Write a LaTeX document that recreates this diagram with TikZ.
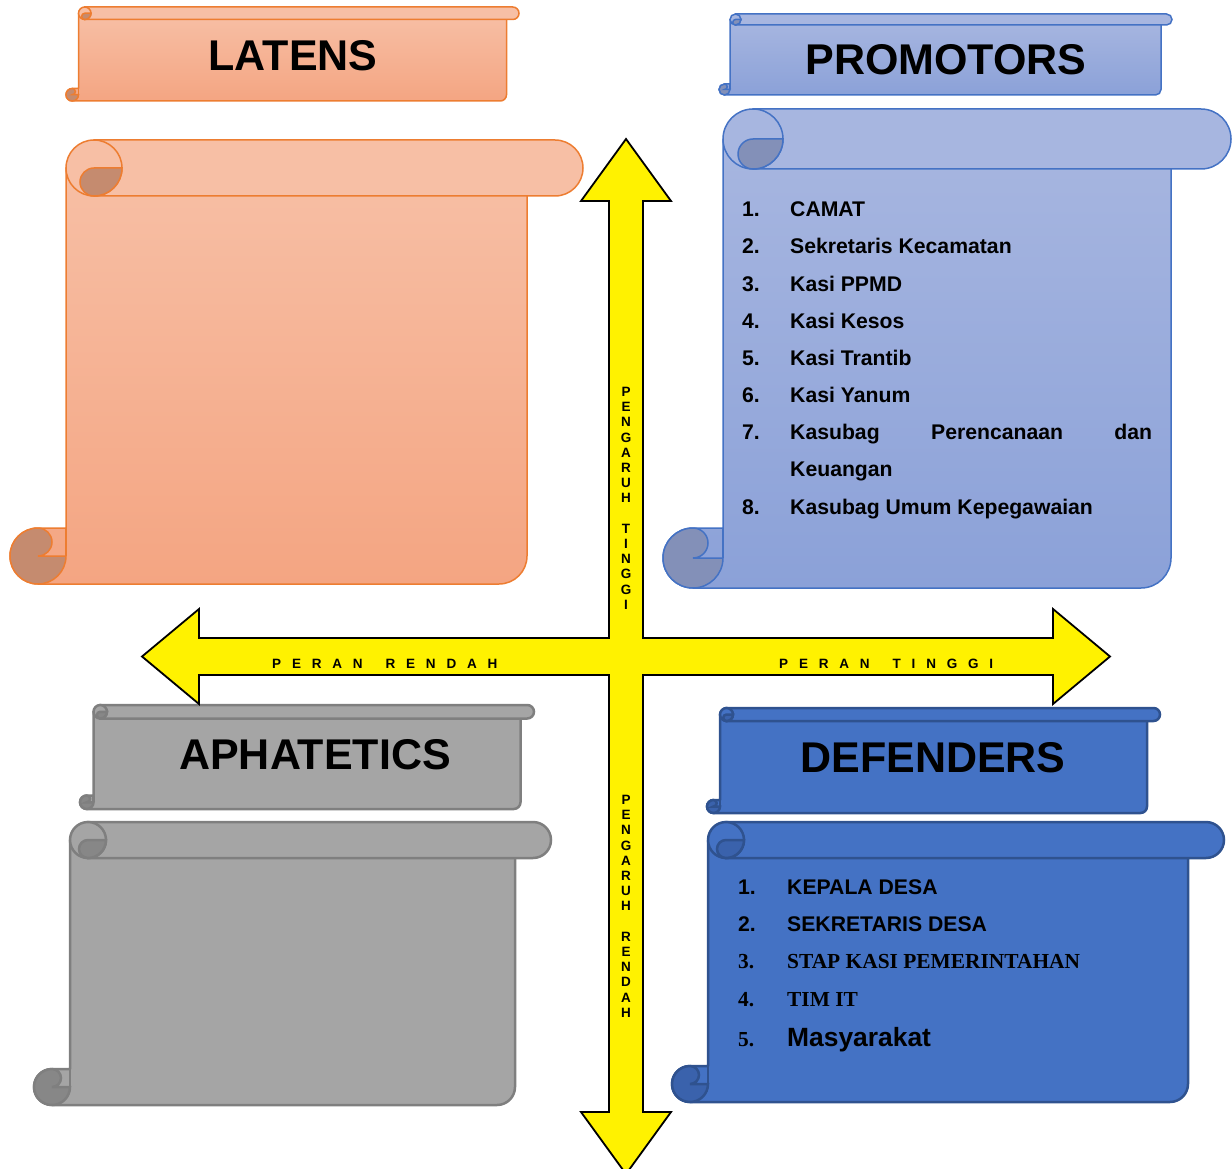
\documentclass[tikz,border=0pt]{standalone}
\usepackage{fontspec}
\setmainfont{Liberation Sans}
\newfontfamily\tms{Liberation Serif}
\definecolor{latT}{HTML}{F7BFA5}
\definecolor{latB}{HTML}{F4A582}
\definecolor{latS}{HTML}{ED7D31}
\definecolor{latD}{HTML}{C58B6F}
\definecolor{proT}{HTML}{A7B6E0}
\definecolor{proB}{HTML}{8BA1D8}
\definecolor{proS}{HTML}{4472C4}
\definecolor{proD}{HTML}{8390B8}
\definecolor{gryT}{HTML}{A5A5A5}
\definecolor{gryB}{HTML}{A5A5A5}
\definecolor{gryS}{HTML}{7F7F7F}
\definecolor{gryD}{HTML}{878787}
\definecolor{dfnT}{HTML}{4472C4}
\definecolor{dfnB}{HTML}{4472C4}
\definecolor{dfnS}{HTML}{2F528F}
\definecolor{dfnD}{HTML}{3A62AC}
\newcommand\lsp{\hskip 10.8pt}
\newcommand\wsp{\hskip 23pt}
% horizontal scroll: L T R B ch colour-prefix line-width
\newcommand\hscroll[7]{%
  \pgfmathsetmacro\hA{#5/2}%
  \pgfmathsetmacro\qA{#5/4}%
  \pgfmathsetmacro\xa{#1+\hA}%
  \pgfmathsetmacro\xb{#1+#5}%
  \pgfmathsetmacro\xc{#1+#5+\hA}%
  \pgfmathsetmacro\xg{#1+2*#5}%
  \pgfmathsetmacro\xd{#3-#5}%
  \pgfmathsetmacro\xe{#3-#5-\hA}%
  \pgfmathsetmacro\xf{#3-\hA}%
  \pgfmathsetmacro\ya{#2+\hA}%
  \pgfmathsetmacro\yb{#2+#5}%
  \pgfmathsetmacro\yc{#4-#5}%
  \pgfmathsetmacro\yd{#4-\hA}%
  \path[draw=#6S, line width=#7, line join=round, top color=#6T, bottom color=#6B]
    (\xb,\ya) -- (\xb,\yc) -- (\xa,\yc) arc[start angle=270, end angle=90, radius=\hA]
    -- (\xe,#4) arc[start angle=90, end angle=0, radius=\hA] -- (\xd,\ya) -- cycle;
  \path[draw=#6S, line width=#7, fill=#6T]
    (\xc,#2) -- (\xf,#2) arc[start angle=270, end angle=450, radius=\hA] -- (\xc,\yb) -- cycle;
  \path[draw=#6S, line width=#7, fill=#6T] (\xc,\ya) circle[radius=\hA];
  \path[draw=#6S, line width=#7, fill=#6D]
    (\xc,\ya) -- (\xg,\ya) arc[start angle=0, end angle=90, radius=\hA]
    arc[start angle=90, end angle=270, radius=\qA] -- cycle;
  \path[draw=#6S, line width=#7, fill=#6D]
    (\xa,\yd) -- (\xb,\yd) arc[start angle=0, end angle=270, radius=\hA]
    arc[start angle=-90, end angle=90, radius=\qA] -- cycle;
  \draw[#6S, line width=#7] (\xb,\yc) -- (\xb,\yd);
}
\tikzset{
  ttl/.style={font=\fontsize{43}{50}\selectfont\bfseries, inner sep=0pt, anchor=base},
  itm/.style={font=\fontsize{21.2}{24}\selectfont\bfseries, inner sep=0pt, anchor=base west},
  itmt/.style={font=\tms\fontsize{21.4}{24}\selectfont\bfseries, inner sep=0pt, anchor=base west},
  lbl/.style={font=\fontsize{13.5}{15.2}\selectfont\bfseries, inner sep=0pt},
  crossarrow/.style={fill=yellow, draw=black, line width=1.8pt, line join=miter}
}
\begin{document}
\begin{tikzpicture}[x=1pt,y=1pt,yscale=-1]
\useasboundingbox (0,0) rectangle (1232,1169);
\clip (0,0) rectangle (1232,1169);
% scrolls
\hscroll{66}{7}{519}{101}{12.5}{lat}{1.5pt}
\hscroll{10}{140}{583}{584}{56}{lat}{1.5pt}
\hscroll{719}{14}{1172}{95}{11}{pro}{1.5pt}
\hscroll{663}{109}{1231}{588}{60}{pro}{1.5pt}
\hscroll{80}{705}{534}{809}{13.5}{gry}{2.5pt}
\hscroll{34}{822}{551}{1105}{36}{gry}{2.5pt}
\hscroll{707}{708}{1160}{813}{13}{dfn}{2.5pt}
\hscroll{672}{822}{1224}{1102}{36}{dfn}{2.5pt}
% cross arrow
\path[crossarrow] (626,139) -- (671,201) -- (643,201) -- (643,638) -- (1053,638) -- (1053,609)
  -- (1110,656.5) -- (1053,704) -- (1053,675) -- (643,675) -- (643,1112) -- (671,1112)
  -- (626,1174) -- (581,1112) -- (609,1112) -- (609,675) -- (199,675) -- (199,704)
  -- (142,656.5) -- (199,609) -- (199,638) -- (609,638) -- (609,201) -- (581,201) -- cycle;
% titles
\node[ttl] (tlat) at (293,71) {LATENS};
\node[ttl] (tpro) at (946,75) {PROMOTORS};
\node[ttl] (tapa) at (315,769) {APHATETICS};
\node[ttl] (tdef) at (933,772) {DEFENDERS};
% promotors list
\node[itm] (pn1) at (742,217) {1.}; \node[itm] (pt1) at (790,217) {CAMAT};
\node[itm] (pn2) at (742,254) {2.}; \node[itm] (pt2) at (790,254) {Sekretaris Kecamatan};
\node[itm] (pn3) at (742,291) {3.}; \node[itm] (pt3) at (790,291) {Kasi PPMD};
\node[itm] (pn4) at (742,328) {4.}; \node[itm] (pt4) at (790,328) {Kasi Kesos};
\node[itm] (pn5) at (742,365) {5.}; \node[itm] (pt5) at (790,365) {Kasi Trantib};
\node[itm] (pn6) at (742,402) {6.}; \node[itm] (pt6) at (790,402) {Kasi Yanum};
\node[itm] (pn7) at (742,439) {7.}; \node[itm] (pt7) at (790,439) {\hbox to 362pt{Kasubag\hfill Perencanaan\hfill dan}};
\node[itm] (pt7b) at (790,476) {Keuangan};
\node[itm] (pn8) at (742,514) {8.}; \node[itm] (pt8) at (790,514) {Kasubag Umum Kepegawaian};
% defenders list
\node[itm] (dn1) at (738,894) {1.}; \node[itm] (dt1) at (787,894) {KEPALA DESA};
\node[itm] (dn2) at (738,931) {2.}; \node[itm] (dt2) at (787,931) {SEKRETARIS DESA};
\node[itmt] (dn3) at (738,968) {3.}; \node[itmt] (dt3) at (787,968) {STAP KASI PEMERINTAHAN};
\node[itmt] (dn4) at (738,1006) {4.}; \node[itmt] (dt4) at (787,1006) {TIM IT};
\node[itmt] (dn5) at (738,1046) {5.}; \node[itm, font=\fontsize{26.4}{30}\selectfont\bfseries] (dt5) at (787,1046) {Masyarakat};
% axis labels
\node[lbl, anchor=north, align=center] (vt) at (626,387) {P\\E\\N\\G\\A\\R\\U\\H\\\mbox{}\\T\\I\\N\\G\\G\\I};
\node[lbl, anchor=north, align=center] (vb) at (626,795) {P\\E\\N\\G\\A\\R\\U\\H\\\mbox{}\\R\\E\\N\\D\\A\\H};
\node[lbl, anchor=base west] (hl) at (272,668) {P\lsp E\lsp R\lsp A\lsp N\wsp R\lsp E\lsp N\lsp D\lsp A\lsp H};
\node[lbl, anchor=base west] (hr) at (779,668) {P\lsp E\lsp R\lsp A\lsp N\wsp T\lsp I\lsp N\lsp G\lsp G\lsp I};
\end{tikzpicture}
\end{document}
